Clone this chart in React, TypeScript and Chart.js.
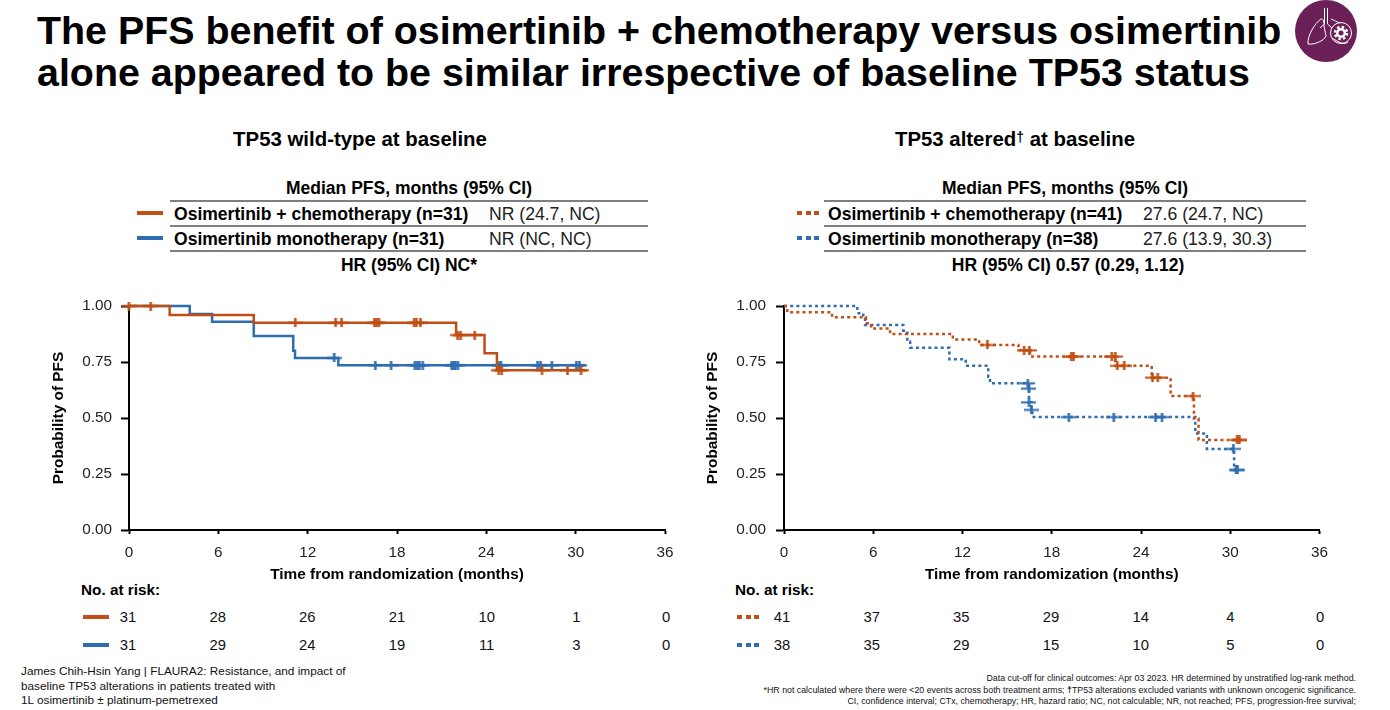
import React, { useEffect, useRef } from "react";
import { Chart, registerables } from "chart.js";

Chart.register(...registerables);

const ORANGE = "#C04F15";
const BLUE = "#2E6DB0";
const FONT = '"Liberation Sans", Arial, sans-serif';

const yTicks = [0, 0.25, 0.5, 0.75, 1];
const xTicks = [0, 6, 12, 18, 24, 30, 36];

// TP53 wild-type
const wtChemoMonths = [0, 2.73, 8.38, 21.97, 23.88, 24.71, 30.76];
const wtChemoPfs = [1, 0.96, 0.925, 0.87, 0.789, 0.713, 0.713];
const wtChemoCensorMonths = [0, 1.46, 11.17, 13.88, 14.28, 16.49, 16.64, 16.79, 19.15, 19.3, 19.57, 22.07, 22.27, 23.22, 24.83, 25.03, 27.74, 29.45, 30.36];
const wtChemoCensorPfs = [1, 1, 0.925, 0.925, 0.925, 0.925, 0.925, 0.925, 0.925, 0.925, 0.925, 0.87, 0.87, 0.87, 0.713, 0.713, 0.713, 0.713, 0.713];
const wtMonoMonths = [0, 4.08, 5.58, 8.38, 11.03, 11.15, 14.06, 30.66];
const wtMonoPfs = [1, 0.964, 0.93, 0.866, 0.8, 0.768, 0.735, 0.735];
const wtMonoCensorMonths = [13.78, 16.54, 17.6, 19.2, 19.35, 19.5, 19.73, 21.67, 21.8, 21.92, 22.09, 24.86, 24.98, 27.44, 27.64, 28.4, 30.05, 30.25];
const wtMonoCensorPfs = [0.768, 0.735, 0.735, 0.735, 0.735, 0.735, 0.735, 0.735, 0.735, 0.735, 0.735, 0.735, 0.735, 0.735, 0.735, 0.735, 0.735, 0.735];

// TP53 altered
const altChemoMonths = [0, 0.22, 3.23, 5.51, 5.85, 7.13, 11.35, 13.12, 15.76, 16.54, 22.27, 24.72, 25.99, 27.56, 27.87, 31.11];
const altChemoPfs = [1, 0.972, 0.95, 0.923, 0.9, 0.875, 0.851, 0.826, 0.802, 0.774, 0.733, 0.68, 0.598, 0.498, 0.402, 0.402];
const altChemoCensorMonths = [13.67, 16.14, 16.49, 19.31, 19.46, 22.04, 22.27, 22.4, 22.87, 24.78, 25.13, 27.5, 30.46, 30.61];
const altChemoCensorPfs = [0.826, 0.802, 0.802, 0.774, 0.774, 0.774, 0.774, 0.733, 0.733, 0.68, 0.68, 0.598, 0.402, 0.402];
const altMonoMonths = [0, 4.93, 5.33, 5.45, 8.02, 8.29, 8.48, 11.12, 12.22, 13.73, 13.85, 16.43, 16.47, 16.63, 16.69, 27.65, 28.43, 30.26, 30.61];
const altMonoPfs = [1, 0.968, 0.945, 0.915, 0.89, 0.84, 0.814, 0.762, 0.733, 0.684, 0.655, 0.631, 0.57, 0.536, 0.504, 0.431, 0.362, 0.268, 0.268];
const altMonoCensorMonths = [16.39, 16.47, 16.47, 16.63, 19.15, 22.17, 24.98, 25.41, 30.21, 30.39, 30.49];
const altMonoCensorPfs = [0.655, 0.631, 0.57, 0.536, 0.504, 0.504, 0.504, 0.504, 0.362, 0.268, 0.268];

// At risk
const wtChemoAtRisk = [31, 28, 26, 21, 10, 1, 0];
const wtMonoAtRisk = [31, 29, 24, 19, 11, 3, 0];
const altChemoAtRisk = [41, 37, 35, 29, 14, 4, 0];
const altMonoAtRisk = [38, 35, 29, 15, 10, 5, 0];

const zip = (xs: number[], ys: number[]) => xs.map((x, i) => ({ x, y: ys[i] }));

function marker(color: string) {
  const c = document.createElement("canvas");
  c.width = 15;
  c.height = 9;
  const g = c.getContext("2d")!;
  g.fillStyle = color;
  g.fillRect(0, 3.5, 15, 2);
  g.fillRect(6.25, 0, 2.5, 9);
  return c;
}

interface KMProps {
  left: number;
  axisWidth: number;
  padRight: number;
  tickPad: number;
  chemo: [number[], number[], number[], number[]];
  mono: [number[], number[], number[], number[]];
  dash: number[];
}

const clearScalePadding = (s: any) => {
  s.paddingTop = 0;
  s.paddingBottom = 0;
  s.paddingLeft = 0;
  s.paddingRight = 0;
};

function KM({ left, axisWidth, padRight, tickPad, chemo, mono, dash }: KMProps) {
  const ref = useRef<HTMLCanvasElement>(null);
  useEffect(() => {
    const line = (label: string, xs: number[], ys: number[], color: string) => ({
      label,
      data: zip(xs, ys),
      borderColor: color,
      backgroundColor: color,
      borderWidth: 2.5,
      borderDash: dash,
      stepped: "before" as const,
      pointRadius: 0,
      clip: false as const,
    });
    const cens = (label: string, xs: number[], ys: number[], color: string) => ({
      label,
      data: zip(xs, ys),
      showLine: false,
      pointStyle: marker(color) as any,
      pointRadius: 5,
      borderColor: color,
      backgroundColor: color,
      clip: false as const,
    });
    const tickFont = { family: FONT, size: 15.3 };
    const titleFont = { family: FONT, size: 15.4, weight: "bold" as const };
    const chart = new Chart(ref.current!, {
      type: "line",
      data: {
        datasets: [
          cens("Chemo censored", chemo[2], chemo[3], ORANGE),
          line("Osimertinib + chemotherapy", chemo[0], chemo[1], ORANGE),
          cens("Mono censored", mono[2], mono[3], BLUE),
          line("Osimertinib monotherapy", mono[0], mono[1], BLUE),
        ],
      },
      options: {
        animation: false,
        responsive: false,
        layout: { padding: { top: 16, right: padRight, left: 0, bottom: 0 } },
        plugins: { legend: { display: false }, tooltip: { enabled: false } },
        scales: {
          x: {
            type: "linear",
            min: 0,
            max: 36,
            afterBuildTicks: (s: any) => {
              s.ticks = xTicks.map((value) => ({ value }));
            },
            afterFit: (s: any) => {
              s.height = 60;
              clearScalePadding(s);
            },
            ticks: { color: "#222", font: tickFont, padding: 10, maxRotation: 0 },
            grid: { drawOnChartArea: false, tickLength: 4, tickColor: "#000", tickWidth: 2 },
            border: { color: "#000", width: 2 },
            title: {
              display: true,
              text: "Time from randomization (months)",
              color: "#000",
              font: titleFont,
              padding: { top: 0, bottom: 6 },
            },
          },
          y: {
            min: 0,
            max: 1,
            afterBuildTicks: (s: any) => {
              s.ticks = yTicks.map((value) => ({ value }));
            },
            afterFit: (s: any) => {
              s.width = axisWidth;
              clearScalePadding(s);
            },
            ticks: { color: "#222", font: tickFont, padding: tickPad, callback: (v: any) => Number(v).toFixed(2) },
            grid: { drawOnChartArea: false, tickLength: 8, tickColor: "#000", tickWidth: 2 },
            border: { color: "#000", width: 2 },
            title: {
              display: true,
              text: "Probability of PFS",
              color: "#000",
              font: titleFont,
              padding: { top: 10, bottom: 0 },
            },
          },
        },
      },
    });
    return () => chart.destroy();
  }, []);
  return (
    <canvas
      ref={ref}
      width={640}
      height={300}
      style={{ position: "absolute", left, top: 290, width: 640, height: 300 }}
    />
  );
}

function T({ x, y, align = "left", size = 16, bold = false, color = "#000", children }: any) {
  const tx = align === "center" ? "-50%" : align === "right" ? "-100%" : "0";
  return (
    <div
      style={{
        position: "absolute",
        left: x,
        top: y,
        transform: `translate(${tx}, -50%)`,
        fontFamily: FONT,
        fontSize: size,
        fontWeight: bold ? 700 : 400,
        color,
        whiteSpace: "nowrap",
        lineHeight: 1.2,
      }}
    >
      {children}
    </div>
  );
}

function Swatch({ x, y, w, color, dashed }: any) {
  return (
    <div
      style={{
        position: "absolute",
        left: x,
        top: y - 2,
        width: w,
        height: 4,
        background: dashed ? `repeating-linear-gradient(90deg, ${color} 0 5px, transparent 5px 8.5px)` : color,
      }}
    />
  );
}

function Rule({ x, y, w }: any) {
  return <div style={{ position: "absolute", left: x, top: y - 1, width: w, height: 2, background: "#7f7f7f" }} />;
}

function Panel({ plotLeft, title, titleX, dashed, chemoLabel, monoLabel, chemoVal, monoVal, hr, hrX, medX, ruleX, ruleW, labelX, valX, swX, swW, chemoRisk, monoRisk, riskSwX, riskSwW }: any) {
  const step = 538 / 36;
  return (
    <>
      <T x={titleX} y={139} align="center" size={20.4} bold>{title}</T>
      <T x={medX} y={188} align="center" size={17.5} bold>Median PFS, months (95% CI)</T>
      <Rule x={ruleX} y={201} w={ruleW} />
      <Swatch x={swX} y={213} w={swW} color={ORANGE} dashed={dashed} />
      <T x={labelX} y={215} size={17.55} bold>{chemoLabel}</T>
      <T x={valX} y={215} size={17.6} color="#222">{chemoVal}</T>
      <Rule x={ruleX} y={226} w={ruleW} />
      <Swatch x={swX} y={238} w={swW} color={BLUE} dashed={dashed} />
      <T x={labelX} y={240} size={17.55} bold>{monoLabel}</T>
      <T x={valX} y={240} size={17.6} color="#222">{monoVal}</T>
      <Rule x={ruleX} y={251} w={ruleW} />
      <T x={hrX} y={265} align="center" size={17.5} bold>{hr}</T>
      <T x={plotLeft - 47} y={590} size={15.3} bold>No. at risk:</T>
      <Swatch x={riskSwX} y={616.5} w={riskSwW} color={ORANGE} dashed={dashed} />
      <Swatch x={riskSwX} y={644.5} w={riskSwW} color={BLUE} dashed={dashed} />
      {xTicks.map((t, i) => (
        <React.Fragment key={t}>
          <T x={plotLeft + t * step} y={618} align="center" size={14.8} color="#111">{chemoRisk[i]}</T>
          <T x={plotLeft + t * step} y={646} align="center" size={14.8} color="#111">{monoRisk[i]}</T>
        </React.Fragment>
      ))}
    </>
  );
}

export default function App() {
  return (
    <div style={{ position: "absolute", left: 0, top: 0, width: 1390, height: 710, background: "#fff", overflow: "hidden" }}>
      <T x={37} y={31.3} size={39.4} bold>The PFS benefit of osimertinib + chemotherapy versus osimertinib</T>
      <T x={37} y={73} size={39.4} bold>alone appeared to be similar irrespective of baseline TP53 status</T>

      <svg style={{ position: "absolute", left: 1295, top: 0 }} width={62} height={62} viewBox="0 0 62 62">
        <circle cx={31} cy={31} r={31} fill="#6B2157" />
        <g fill="none" stroke="#fff" strokeWidth={1}>
          <path d="M29.5 8V24M32.5 8V24M29.5 24L25 28M32.5 24L37 28" />
          <path d="M26 19C20 23 12 36 13 44C19 45 29 41 31 36L29 26C29 21 28 18 26 19Z" />
          <path d="M36 19C41 21 44 23 45 23M37 38C42 41 49 46 53 42" />
          <circle cx={46} cy={33} r={10.5} />
        </g>
        <circle cx={46} cy={33} r={6} fill="none" stroke="#fff" strokeWidth={2.5} strokeDasharray="2.5 2.2" />
        <circle cx={46} cy={33} r={5} fill="#fff" />
        <circle cx={46} cy={33} r={2.5} fill="#6B2157" />
      </svg>

      <Panel
        plotLeft={128} title="TP53 wild-type at baseline" titleX={360} dashed={false}
        chemoLabel="Osimertinib + chemotherapy (n=31)" monoLabel="Osimertinib monotherapy (n=31)"
        chemoVal="NR (24.7, NC)" monoVal="NR (NC, NC)" hr="HR (95% CI) NC*" hrX={409} medX={409}
        ruleX={170} ruleW={478} labelX={174} valX={489} swX={137} swW={26}
        chemoRisk={wtChemoAtRisk} monoRisk={wtMonoAtRisk} riskSwX={83} riskSwW={26}
      />
      <Panel
        plotLeft={782} title={<>TP53 altered<span style={{ fontSize: 14, position: "relative", top: -4 }}>†</span> at baseline</>} titleX={1015} dashed
        chemoLabel="Osimertinib + chemotherapy (n=41)" monoLabel="Osimertinib monotherapy (n=38)"
        chemoVal="27.6 (24.7, NC)" monoVal="27.6 (13.9, 30.3)" hr="HR (95% CI) 0.57 (0.29, 1.12)" hrX={1068} medX={1065}
        ruleX={824} ruleW={482} labelX={828} valX={1143} swX={797} swW={22}
        chemoRisk={altChemoAtRisk} monoRisk={altMonoAtRisk} riskSwX={737} riskSwW={26}
      />

      <KM left={40} axisWidth={89} padRight={15} tickPad={9} dash={[]} chemo={[wtChemoMonths, wtChemoPfs, wtChemoCensorMonths, wtChemoCensorPfs]} mono={[wtMonoMonths, wtMonoPfs, wtMonoCensorMonths, wtMonoCensorPfs]} />
      <KM left={694} axisWidth={90} padRight={14.5} tickPad={10} dash={[3, 3.2]} chemo={[altChemoMonths, altChemoPfs, altChemoCensorMonths, altChemoCensorPfs]} mono={[altMonoMonths, altMonoPfs, altMonoCensorMonths, altMonoCensorPfs]} />

      <T x={21} y={671} size={11.8} color="#111">James Chih-Hsin Yang | FLAURA2: Resistance, and impact of</T>
      <T x={21} y={685.5} size={11.8} color="#111">baseline TP53 alterations in patients treated with</T>
      <T x={21} y={700} size={11.8} color="#111">1L osimertinib ± platinum-pemetrexed</T>

      <T x={1356} y={678} align="right" size={8.8} color="#111">Data cut-off for clinical outcomes: Apr 03 2023. HR determined by unstratified log-rank method.</T>
      <T x={1356} y={689.5} align="right" size={8.8} color="#111">*HR not calculated where there were &lt;20 events across both treatment arms; <b>†</b>TP53 alterations excluded variants with unknown oncogenic significance.</T>
      <T x={1356} y={701} align="right" size={8.8} color="#111">CI, confidence interval; CTx, chemotherapy; HR, hazard ratio; NC, not calculable; NR, not reached; PFS, progression-free survival;</T>
    </div>
  );
}
